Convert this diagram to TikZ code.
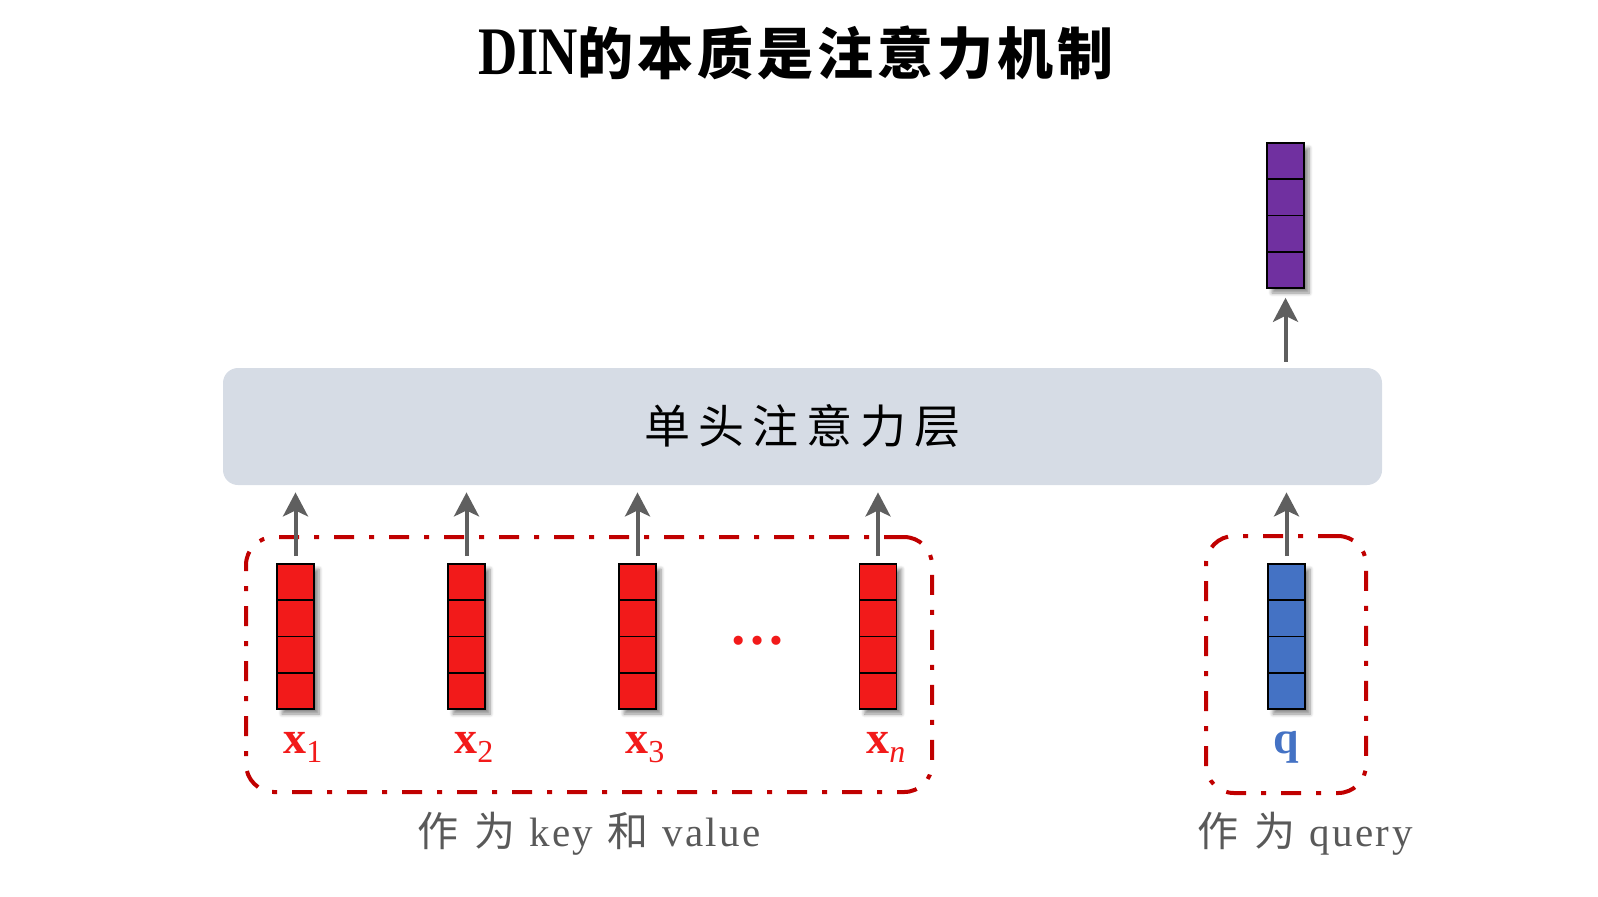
\documentclass[tikz,border=0pt]{standalone}
\usepackage{fontspec}
\setmainfont{Liberation Serif}
\newfontfamily\cjk{Noto Sans CJK SC}
\newfontfamily\spaced{Liberation Serif}[LetterSpace=6]
\usetikzlibrary{arrows.meta,calc,shadows.blur}
\definecolor{vred}{HTML}{F21A1A}
\definecolor{bred}{HTML}{C00000}
\definecolor{vblue}{HTML}{4472C4}
\definecolor{vpurple}{HTML}{7030A0}
\definecolor{attfill}{HTML}{D6DCE5}
\definecolor{arrgray}{HTML}{5F5F5F}
\definecolor{txtgray}{HTML}{595959}
\newcommand\tgap{\hspace{2pt}}
\newcommand\bgap{\hspace{8pt}}
\newcommand\wgap{\hspace{7pt}}
\newcommand\xsub[1]{\textbf{x}\raisebox{-4.5pt}{\fontsize{16}{16}\selectfont #1}}
\tikzset{
  vec/.style={draw=black, line width=0.8pt, minimum width=18.5pt, minimum height=72.5pt, inner sep=0pt,
    blur shadow={shadow xshift=2.5pt, shadow yshift=-2.5pt, shadow blur steps=6, shadow opacity=45},
    path picture={\foreach \f in {0.25,0.5,0.75}
      \draw[line width=0.8pt] ($(path picture bounding box.north west)!\f!(path picture bounding box.south west)$) --
                              ($(path picture bounding box.north east)!\f!(path picture bounding box.south east)$);}},
  arr/.style={draw=arrgray, line width=2pt, -{Stealth[length=12pt,width=12.5pt,inset=3pt]}},
  grp/.style={draw=bred, line width=2pt, rounded corners=14pt, dash pattern=on 10pt off 7.5pt on 2.5pt off 7.5pt, inner sep=0pt},
  xlab/.style={text=vred, font=\fontsize{23}{26}\selectfont, inner sep=0pt, anchor=base west},
  bottomtxt/.style={text=txtgray, font=\fontsize{20.5}{24}\selectfont, inner sep=0pt}
}
\begin{document}
\begin{tikzpicture}[x=0.5pt,y=-0.5pt]
\useasboundingbox (0,0) rectangle (1598,896);
% title
\node[inner sep=0pt] (title) at (796,53) {\fontsize{34}{40}\selectfont\bfseries\scalebox{0.8}[1]{DIN}\cjk\bfseries\fontsize{28}{34}\selectfont 的\tgap 本\tgap 质\tgap 是\tgap 注\tgap 意\tgap 力\tgap 机\tgap 制};
% attention layer
\node[fill=attfill, rounded corners=7.5pt, minimum width=579.5pt, minimum height=58.5pt, inner sep=0pt] (att) at (802.5,426.5)
  {\cjk\fontsize{23}{28}\selectfont 单\hspace{4pt}头\hspace{4pt}注\hspace{4pt}意\hspace{4pt}力\hspace{4pt}层};
% groups
\node[grp, minimum width=343pt, minimum height=127.5pt] (gkv) at (589,664.5) {};
\node[grp, minimum width=80pt, minimum height=128.5pt] (gq) at (1286,664.5) {};
% vectors
\node[vec, fill=vred] (v1) at (295.5,636.5) {};
\node[vec, fill=vred] (v2) at (466.5,636.5) {};
\node[vec, fill=vred] (v3) at (637.5,636.5) {};
\node[vec, fill=vred] (vn) at (878,636.5) {};
\node[vec, fill=vblue] (vq) at (1286.5,636.5) {};
\node[vec, fill=vpurple] (out) at (1285.5,215.5) {};
% dots
\node[text=vred, inner sep=0pt, font=\fontsize{28}{30}\selectfont\bfseries] (dots) at (757,641) {…};
% labels
\node[xlab] (l1) at (283,753) {\xsub{1}};
\node[xlab] (l2) at (454,753) {\xsub{2}};
\node[xlab] (l3) at (625,753) {\xsub{3}};
\node[xlab] (ln) at (866,753) {\xsub{\itshape n}};
\node[xlab, text=vblue, anchor=base] (lq) at (1286.5,753) {\textbf{q}};
% arrows
\foreach \v in {v1,v2,v3,vn,vq}
  \draw[arr] ([yshift=3.5pt]\v.north) -- ([yshift=-3.5pt]\v.north |- att.south);
\draw[arr] ([yshift=3pt]out.south |- att.north) -- ([yshift=-4.5pt]out.south);
% bottom texts
\node[bottomtxt] (tkv) at (589,834) {\cjk 作\bgap 为\wgap\spaced key\wgap\cjk 和\wgap\spaced value};
\node[bottomtxt] (tq) at (1305,834) {\cjk 作\bgap 为\wgap\spaced query};
\end{tikzpicture}
\end{document}
